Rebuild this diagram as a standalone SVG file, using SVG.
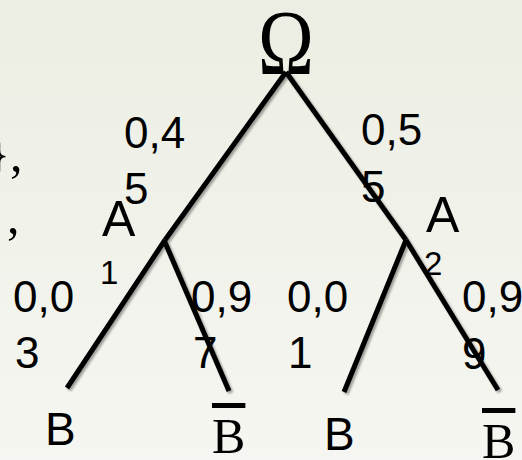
<svg xmlns="http://www.w3.org/2000/svg" width="522" height="460" viewBox="0 0 522 460">
  <defs>
    <linearGradient id="bg" x1="0" y1="0" x2="0" y2="1">
      <stop offset="0" stop-color="#eceee3"/>
      <stop offset="1" stop-color="#f5f6f1"/>
    </linearGradient>
    <filter id="shadow" x="-10%" y="-10%" width="120%" height="120%">
      <feDropShadow dx="2" dy="2" stdDeviation="1.2" flood-color="#000" flood-opacity="0.35"/>
    </filter>
  </defs>
  <style>
    .lbl { font-family: "Liberation Sans", Arial, sans-serif; font-size: 44px; fill: #000; }
    .node { font-family: "Liberation Sans", Arial, sans-serif; font-size: 50px; fill: #000; }
    .sub { font-family: "Liberation Sans", Arial, sans-serif; font-size: 33px; fill: #000; }
    .b { font-family: "Liberation Sans", Arial, sans-serif; font-size: 46px; fill: #000; }
    .bbar { font-family: "Liberation Serif", "Times New Roman", serif; font-size: 50px; fill: #000; text-decoration: overline; }
    .serif { font-family: "Liberation Serif", "Times New Roman", serif; font-size: 50px; fill: #000; }
    .edge { stroke: #000; stroke-width: 5; fill: none; stroke-linecap: butt; }
  </style>
  <rect x="0" y="0" width="522" height="460" fill="url(#bg)"/>

  <!-- partial text at left edge -->
  <g id="edge-text">
    <text class="serif" x="-14" y="171">},</text>
    <text class="serif" x="7" y="233">,</text>
  </g>

  <g id="labels">
    <text class="lbl" x="124" y="148">0,4</text>
    <text class="lbl" x="124" y="204">5</text>
    <text class="lbl" x="361" y="145">0,5</text>
    <text class="lbl" x="361" y="202">5</text>
    <text class="lbl" x="13" y="312">0,0</text>
    <text class="lbl" x="15" y="368">3</text>
    <text class="lbl" x="191" y="312">0,9</text>
    <text class="lbl" x="193" y="368">7</text>
    <text class="lbl" x="287" y="312">0,0</text>
    <text class="lbl" x="288" y="368">1</text>
    <text class="lbl" x="462" y="312">0,9</text>
    <text class="lbl" x="462" y="369">9</text>
  </g>

  <g id="node-omega">
    <text class="serif" transform="translate(286,74) scale(0.8,1)" x="0" y="0" text-anchor="middle" style="font-size:94px">Ω</text>
  </g>
  <g id="node-A1">
    <text class="node" x="102" y="236">A</text>
    <text class="sub" x="100" y="284">1</text>
  </g>
  <g id="node-A2">
    <text class="node" x="426" y="232">A</text>
    <text class="sub" x="424" y="275">2</text>
  </g>
  <g id="node-B1">
    <text class="b" x="45" y="445">B</text>
  </g>
  <g id="node-Bbar1">
    <text class="bbar" x="212" y="453">B</text>
  </g>
  <g id="node-B2">
    <text class="b" x="324" y="450">B</text>
  </g>
  <g id="node-Bbar2">
    <text class="bbar" x="482" y="458">B</text>
  </g>

  <g id="connectors" filter="url(#shadow)">
    <line class="edge" x1="286" y1="72" x2="165" y2="240"/>
    <line class="edge" x1="165" y1="240" x2="67" y2="388"/>
    <line class="edge" x1="164" y1="240" x2="229" y2="391"/>
    <line class="edge" x1="286" y1="72" x2="406" y2="240"/>
    <line class="edge" x1="406" y1="240" x2="498" y2="390"/>
    <line class="edge" x1="406" y1="240" x2="344" y2="392"/>
  </g>
</svg>
